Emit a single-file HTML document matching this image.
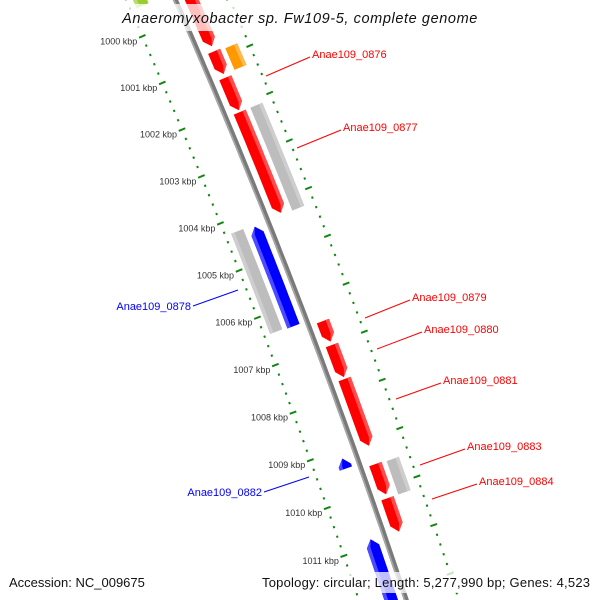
<!DOCTYPE html>
<html><head><meta charset="utf-8"><style>
html,body{margin:0;padding:0;background:#fff;width:600px;height:600px;overflow:hidden;}
svg{display:block;font-family:"Liberation Sans",sans-serif;overflow:hidden;}
</style></head><body>
<svg id="map" width="600" height="600" viewBox="0 0 600 600" xmlns="http://www.w3.org/2000/svg">
<g id="rulers"></g>
<g id="backbone"></g>
<g id="features"></g>
<g id="labels">
  <line x1="266" y1="76" x2="310" y2="57" stroke="#f00"/>
  <text x="312" y="58" font-size="11" fill="#f00">Anae109_0876</text>
  <line x1="297" y1="148" x2="341" y2="130" stroke="#f00"/>
  <text x="343" y="131" font-size="11" fill="#f00">Anae109_0877</text>
  <line x1="365" y1="318" x2="410" y2="300" stroke="#f00"/>
  <text x="412" y="301" font-size="11" fill="#f00">Anae109_0879</text>
  <line x1="377" y1="349" x2="422" y2="332" stroke="#f00"/>
  <text x="424" y="333" font-size="11" fill="#f00">Anae109_0880</text>
  <line x1="396" y1="399" x2="441" y2="383" stroke="#f00"/>
  <text x="443" y="384" font-size="11" fill="#f00">Anae109_0881</text>
  <line x1="420" y1="465" x2="465" y2="449" stroke="#f00"/>
  <text x="467" y="450" font-size="11" fill="#f00">Anae109_0883</text>
  <line x1="432" y1="499" x2="477" y2="484" stroke="#f00"/>
  <text x="479" y="485" font-size="11" fill="#f00">Anae109_0884</text>
  <line x1="193" y1="306" x2="238" y2="290" stroke="#00f"/>
  <text x="191" y="310" font-size="11" fill="#00f" text-anchor="end">Anae109_0878</text>
  <line x1="264" y1="492" x2="309" y2="477" stroke="#00f"/>
  <text x="262" y="496" font-size="11" fill="#00f" text-anchor="end">Anae109_0882</text>
</g>
<rect x="118" y="4" width="364" height="27" fill="rgba(255,255,255,0.75)"/>
<text x="300" y="23" font-size="14.5" font-style="italic" text-anchor="middle" fill="#111" letter-spacing="0.6">Anaeromyxobacter sp. Fw109-5, complete genome</text>
<rect x="4" y="572" width="142" height="21" fill="rgba(255,255,255,0.75)"/>
<text x="9" y="587" font-size="13" fill="#111">Accession: NC_009675</text>
<rect x="258" y="572" width="338" height="21" fill="rgba(255,255,255,0.75)"/>
<text x="590" y="587" font-size="13" fill="#111" text-anchor="end" textLength="328" lengthAdjust="spacing">Topology: circular; Length: 5,277,990 bp; Genes: 4,523</text>
</svg>
<script>
// ---- data ----
const featNames  = ['lime-feature','Anae109_0875','Anae109_0876','Anae109_0876-product','gene-0876b','Anae109_0877','Anae109_0877-product','Anae109_0878','Anae109_0878-product','Anae109_0879','Anae109_0880','Anae109_0881','Anae109_0882','Anae109_0883','Anae109_0883-product','Anae109_0884','gene-bottom-reverse'];
const featStarts = [998.0, 998.5, 1000.83, 1000.86, 1001.39, 1002.12, 1002.12, 1004.31, 1004.27, 1006.52, 1007.02, 1007.73, 1009.18, 1009.50, 1009.52, 1010.21, 1010.86];
const featEnds   = [999.45,1000.72,1001.31, 1001.32, 1002.08, 1004.25, 1004.29, 1006.41, 1006.39, 1006.95, 1007.69, 1009.12, 1009.39, 1010.13, 1010.21, 1010.90, 1012.6];
const featStrand = [0, 1, 1, 0, 1, 1, 0, -1, 0, 1, 1, 1, -1, 1, 0, 1, -1];
const featTrack  = ['inner2','fwd','fwd','outer2','fwd','fwd','outer2','rev','inner2','fwd','fwd','fwd','rev','fwd','outer2','fwd','rev'];
const featColor  = ['#9acd32','#ff0000','#ff0000','#ff9900','#ff0000','#ff0000','#bdbdbd','#0000ff','#bdbdbd','#ff0000','#ff0000','#ff0000','#0000ff','#ff0000','#bdbdbd','#ff0000','#0000ff'];
const tickKbp    = [1000,1001,1002,1003,1004,1005,1006,1007,1008,1009,1010,1011];
const tickLabels = ['1000 kbp','1001 kbp','1002 kbp','1003 kbp','1004 kbp','1005 kbp','1006 kbp','1007 kbp','1008 kbp','1009 kbp','1010 kbp','1011 kbp'];

// ---- geometry (slightly curved circular map) ----
const NS='http://www.w3.org/2000/svg';
const R=7000, K0=1006, A0=21*Math.PI/180, PXK=51;
const B0x=299.4, B0y=301.6;
const T={x:Math.sin(A0),y:Math.cos(A0)}, N={x:Math.cos(A0),y:-Math.sin(A0)};
const Cx=B0x-R*N.x, Cy=B0y-R*N.y;
function P(k,d){const th=(k-K0)*PXK/R;const nx=N.x*Math.cos(th)+T.x*Math.sin(th),ny=N.y*Math.cos(th)+T.y*Math.sin(th);return [Cx+(R+d)*nx,Cy+(R+d)*ny];}
const trackOff={fwd:15,outer2:33,rev:-14.3,inner2:-32.4};
const W=13, HEAD=0.15;
function poly(pts){return pts.map(p=>p[0].toFixed(1)+','+p[1].toFixed(1)).join(' ');}
function lighten(c,f){const n=parseInt(c.slice(1),16);let r=n>>16,g=(n>>8)&255,b=n&255;r=Math.round(r+(255-r)*f);g=Math.round(g+(255-g)*f);b=Math.round(b+(255-b)*f);return `rgb(${r},${g},${b})`;}

// rulers
const rg=document.getElementById('rulers');
[[-45,'inner'],[50,'outer']].forEach(([d,nm])=>{
  for(let i=0;i<=80;i++){
    const k=998.6+i*0.2; const kr=Math.round(k*5)/5;
    const major=Math.abs(kr-Math.round(kr))<0.01;
    const len=major?3.5:1;
    const a=P(kr,d-len),b=P(kr,d+len);
    if(b[1]<-5||a[1]>598) continue;
    const l=document.createElementNS(NS,'line');
    l.setAttribute('x1',a[0]);l.setAttribute('y1',a[1]);l.setAttribute('x2',b[0]);l.setAttribute('y2',b[1]);
    l.setAttribute('stroke','#118811');l.setAttribute('stroke-width',major?2:2.2);
    
    
    rg.appendChild(l);
  }
});
tickKbp.forEach((k,i)=>{
  const p=P(k,-45);
  const t=document.createElementNS(NS,'text');
  t.setAttribute('x',p[0]-5);t.setAttribute('y',p[1]+8);
  t.setAttribute('text-anchor','end');t.setAttribute('font-size','9');t.setAttribute('fill','#333');
  t.textContent=tickLabels[i];
  
  
  rg.appendChild(t);
});

// backbone
const bg=document.getElementById('backbone');
function arcPath(d,k0,k1){let s='';for(let k=k0;k<=k1+1e-9;k+=0.25){const p=P(k,d);s+=(s?'L':'M')+p[0].toFixed(1)+','+p[1].toFixed(1);}return s;}
const bb=document.createElementNS(NS,'path');
bb.setAttribute('d',arcPath(0,999,1012.5));bb.setAttribute('stroke','#7a7a7a');bb.setAttribute('stroke-width','5');bb.setAttribute('fill','none');


bg.appendChild(bb);
const bb2=document.createElementNS(NS,'path');
bb2.setAttribute('d',arcPath(-1.6,999,1012.5));bb2.setAttribute('stroke','#a8a8a8');bb2.setAttribute('stroke-width','1.6');bb2.setAttribute('fill','none');


bg.appendChild(bb2);

// features
const fg=document.getElementById('features');
function shape(k0,k1,d0,d1,strand,dc){
  const pts=[];const len=k1-k0;const h=Math.min(HEAD,len*0.8);
  if(strand===1){
    pts.push(P(k0,d0));for(let k=k0;k<=k1-h;k+=0.2)pts.push(P(k,d0));pts.push(P(k1-h,d0));pts.push(P(k1,dc));pts.push(P(k1-h,d1));
    for(let k=k1-h;k>=k0;k-=0.2)pts.push(P(k,d1));pts.push(P(k0,d1));
  }else if(strand===-1){
    pts.push(P(k0,dc));pts.push(P(k0+h,d0));for(let k=k0+h;k<=k1;k+=0.2)pts.push(P(k,d0));pts.push(P(k1,d0));pts.push(P(k1,d1));
    for(let k=k1;k>=k0+h;k-=0.2)pts.push(P(k,d1));pts.push(P(k0+h,d1));
  }else{
    pts.push(P(k0,d0));for(let k=k0;k<=k1;k+=0.2)pts.push(P(k,d0));pts.push(P(k1,d0));pts.push(P(k1,d1));
    for(let k=k1;k>=k0;k-=0.2)pts.push(P(k,d1));pts.push(P(k0,d1));
  }
  return poly(pts);
}
featNames.forEach((nm,i)=>{
  const dc=trackOff[featTrack[i]];const d0=dc-W/2,d1=dc+W/2;
  const k0=featStarts[i],k1=featEnds[i],st=featStrand[i],col=featColor[i];
  const g=document.createElementNS(NS,'g');
  
  
  const main=document.createElementNS(NS,'polygon');
  main.setAttribute('points',shape(k0,k1,d0,d1,st,dc));main.setAttribute('fill',col);
  
  
  g.appendChild(main);
  const outer=dc>0;
  const s0=outer?d1-W*0.28:d0, s1=outer?d1:d0+W*0.28;
  const hl=document.createElementNS(NS,'polygon');
  hl.setAttribute('points',shape(k0,k1,s0,s1,st,dc));hl.setAttribute('fill',lighten(col,col==='#bdbdbd'?0.25:0.3));
  
  
  g.appendChild(hl);
  fg.appendChild(g);
});
</script>
</body></html>
